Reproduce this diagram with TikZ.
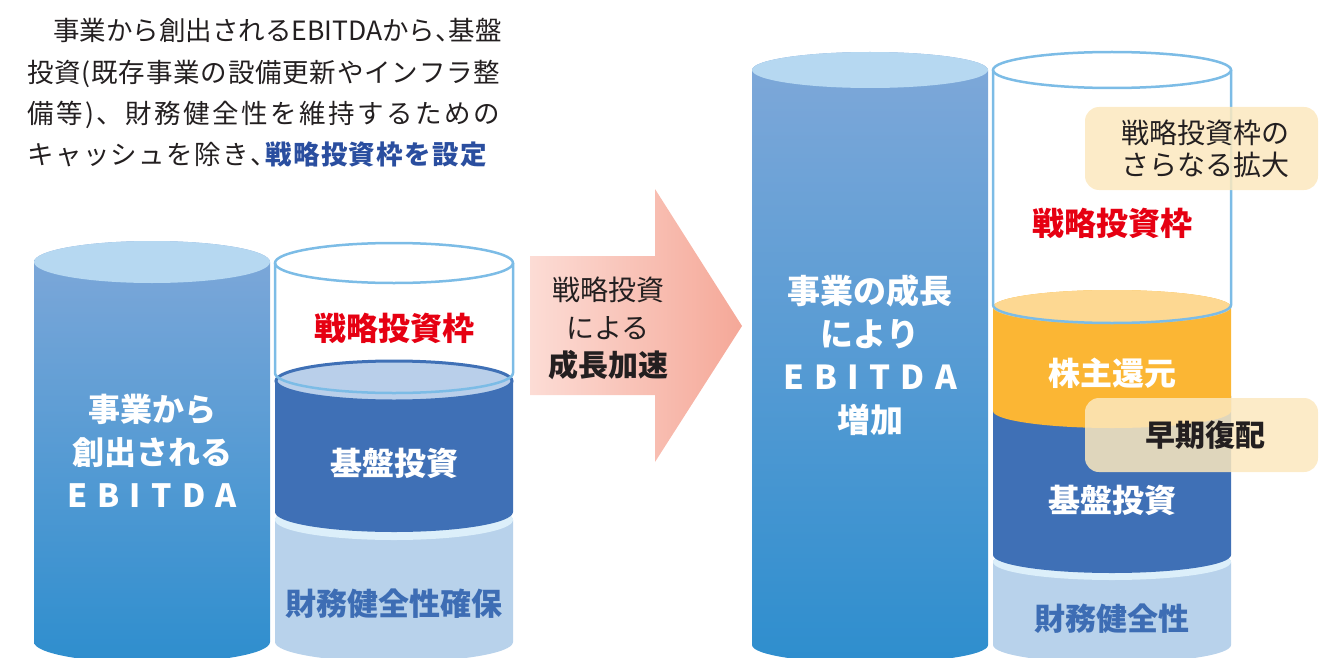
\documentclass[tikz,border=0pt]{standalone}
\usepackage{fontspec}
\setmainfont{Noto Sans CJK JP}
\definecolor{txtc}{HTML}{231F20}
\definecolor{bluetxt}{HTML}{2A4E9F}
\definecolor{redc}{HTML}{E60012}
\definecolor{cyltop}{HTML}{7FA8D9}
\definecolor{cylbot}{HTML}{2E8ECE}
\definecolor{cylface}{HTML}{B6D8F1}
\definecolor{glassc}{HTML}{7CBCE6}
\definecolor{darkseg}{HTML}{3F70B6}
\definecolor{darkface}{HTML}{B9CFEA}
\definecolor{lightseg}{HTML}{B8D2EB}
\definecolor{lightface}{HTML}{DCEFFA}
\definecolor{midblue}{HTML}{3D6DB4}
\definecolor{orangeseg}{HTML}{FBB634}
\definecolor{orangeface}{HTML}{FDD892}
\definecolor{arrowL}{HTML}{FCDCD5}
\definecolor{arrowR}{HTML}{F5A898}
\definecolor{boxc}{HTML}{FCE8BE}
\newcommand\cylbody[6]{%
  \path[#1] ({#2-#3},#4) -- ({#2-#3},#5)
    arc[start angle=180,end angle=0,x radius=#3,y radius=#6]
    -- ({#2+#3},#4)
    arc[start angle=0,end angle=-180,x radius=#3,y radius=#6] -- cycle;}
\newcommand\halfcomma{\makebox[0.5em][l]{、}}
\tikzset{
  glass/.style={draw=glassc, line width=2.5pt},
  lbl/.style={font=\bfseries\fontsize{32}{43}\selectfont, align=center, inner sep=0pt},
  para/.style={font=\fontsize{26.5}{30}\selectfont, text=txtc, anchor=west, inner sep=0pt},
  notebox/.style={rounded corners=14pt, fill=boxc, fill opacity=0.85, text opacity=1,
    minimum width=233pt, inner sep=0pt, text=txtc, align=center},
}
\begin{document}
\begin{tikzpicture}[x=1pt,y=-1pt]
\useasboundingbox (0,0) rectangle (1335,658);

% ---------- top paragraph ----------
\node[para] (p1) at (53,30) {\makebox[447pt][s]{事\hfil 業\hfil か\hfil ら\hfil 創\hfil 出\hfil さ\hfil れ\hfil る\hfil EBITDA\hfil か\hfil ら\hfil \halfcomma\hfil 基\hfil 盤}};
\node[para] (p2) at (27,74) {\makebox[473pt][s]{投\hfil 資\hfil (\hfil 既\hfil 存\hfil 事\hfil 業\hfil の\hfil 設\hfil 備\hfil 更\hfil 新\hfil や\hfil イ\hfil ン\hfil フ\hfil ラ\hfil 整}};
\node[para] (p3) at (27,115) {\makebox[473pt][s]{備\hfil 等\hfil )\hfil 、\hfil 財\hfil 務\hfil 健\hfil 全\hfil 性\hfil を\hfil 維\hfil 持\hfil す\hfil る\hfil た\hfil め\hfil の}};
\node[para] (p4) at (27,155) {\makebox[460pt][s]{キ\hfil ャ\hfil ッ\hfil シ\hfil ュ\hfil を\hfil 除\hfil き\hfil \halfcomma\hfil {\bfseries\color{bluetxt}戦\hfil 略\hfil 投\hfil 資\hfil 枠\hfil を\hfil 設\hfil 定}}};

% ---------- left EBITDA cylinder ----------
\cylbody{top color=cyltop, bottom color=cylbot}{152}{118}{262}{642}{21}
\path[fill=cylface] (152,262) ellipse[x radius=118, y radius=21];
\node[lbl, text=white] (lebitda) at (152,451)
  {事業から\\創出される\\\makebox[170pt][s]{E\hfil B\hfil I\hfil T\hfil D\hfil A}};

% ---------- left glass cylinder ----------
\cylbody{fill=lightseg}{394}{119}{520}{642}{20}
\path[fill=lightface] (394,520) ellipse[x radius=119, y radius=20];
\cylbody{fill=darkseg}{394}{119}{381}{512}{20}
\path[fill=darkface, draw=darkseg, line width=3pt] (394,381) ellipse[x radius=118, y radius=20];
\path[glass, fill=white] (394,263) ellipse[x radius=119, y radius=20];
\draw[glass] (275,263) -- (275,373) arc[start angle=180,end angle=0,x radius=119,y radius=20] -- (513,263);
\node[lbl, text=redc] (lstrat) at (394,328) {戦略投資枠};
\node[lbl, text=white] (lbase) at (394,463) {基盤投資};
\node[lbl, text=midblue, font=\bfseries\fontsize{31}{40}\selectfont] (lfin) at (394,604) {財務健全性確保};

% ---------- arrow ----------
\path[left color=arrowL, right color=arrowR]
  (530,256) -- (655,256) -- (655,189) -- (742,326) -- (655,462) -- (655,395) -- (530,395) -- cycle;
\node[align=center, inner sep=0pt, text=txtc, font=\fontsize{28}{38}\selectfont] (arrowtxt) at (608,328)
  {戦略投資\\による\\{\bfseries\fontsize{30}{38}\selectfont 成長加速}};

% ---------- right EBITDA cylinder ----------
\cylbody{top color=cyltop, bottom color=cylbot}{870}{118}{70}{645}{18}
\path[fill=cylface] (870,70) ellipse[x radius=118, y radius=18];
\node[lbl, text=white, font=\bfseries\fontsize{33}{43}\selectfont] (rebitda) at (870,355)
  {事業の成長\\により\\\makebox[174pt][s]{E\hfil B\hfil I\hfil T\hfil D\hfil A}\\増加};

% ---------- right glass cylinder ----------
\cylbody{fill=lightseg}{1112}{119}{562}{645}{18}
\path[fill=lightface] (1112,562) ellipse[x radius=119, y radius=18];
\cylbody{fill=darkseg}{1112}{119}{396}{555}{18}
\cylbody{fill=orangeseg}{1112}{119}{307}{411}{17}
\path[fill=orangeface] (1112,307) ellipse[x radius=119, y radius=17];
\path[glass, fill=white] (1112,70) ellipse[x radius=119, y radius=18];
\draw[glass] (993,70) -- (993,305) arc[start angle=180,end angle=0,x radius=119,y radius=18] -- (1231,70);
\node[lbl, text=redc] (rstrat) at (1112,223) {戦略投資枠};
\node[lbl, text=white] (rshare) at (1112,373) {株主還元};
\node[lbl, text=white] (rbase) at (1112,500) {基盤投資};
\node[lbl, text=midblue, font=\bfseries\fontsize{31}{40}\selectfont] (rfin) at (1112,619) {財務健全性};

% ---------- note boxes ----------
\node[notebox, minimum height=83pt, font=\fontsize{28}{32}\selectfont] (note1) at (1201.5,148.5)
  {\hspace*{8pt}戦略投資枠の\\\hspace*{8pt}さらなる拡大};
\node[notebox, minimum height=74pt, font=\bfseries\fontsize{30}{36}\selectfont] (note2) at (1201.5,435)
  {\hspace*{8pt}早期復配};
\end{tikzpicture}
\end{document}
